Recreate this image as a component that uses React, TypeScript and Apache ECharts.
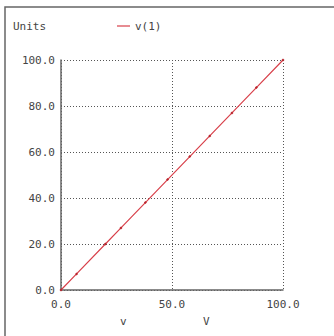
import React, { useEffect, useRef } from "react";
import * as echarts from "echarts";

const xValues = [0, 7, 20, 27, 38, 48, 58, 67, 77, 88, 100];
const yValues = [0, 7, 20, 27, 38, 48, 58, 67, 77, 88, 100];
const seriesName = "v(1)";
const FONT = "DejaVu Sans Mono";

export default function App() {
  const ref = useRef<HTMLDivElement>(null);
  useEffect(() => {
    const chart = echarts.init(ref.current!, null, { renderer: "svg" });
    const lbl = { fontFamily: FONT, fontSize: 11, color: "#444" };
    chart.setOption({
      animation: false,
      backgroundColor: "#fff",
      grid: { left: 61, top: 60, width: 222, height: 230, show: false },
      legend: { show: false },
      xAxis: {
        type: "value",
        min: 0,
        max: 100,
        interval: 50,
        axisLine: { show: true, onZero: false, lineStyle: { color: "#666", width: 1.5 } },
        axisTick: { show: false },
        axisLabel: { ...lbl, margin: 9, formatter: (v: number) => v.toFixed(1) },
        splitLine: { show: true, lineStyle: { color: "#555", type: [1, 2], width: 1 } },
      },
      yAxis: {
        type: "value",
        min: 0,
        max: 100,
        interval: 20,
        axisLine: { show: true, onZero: false, lineStyle: { color: "#666", width: 1.5 } },
        axisTick: { show: false },
        axisLabel: { ...lbl, margin: 6, formatter: (v: number) => v.toFixed(1) },
        splitLine: { show: true, lineStyle: { color: "#555", type: [1, 2], width: 1 } },
      },
      series: [
        {
          name: seriesName,
          type: "line",
          data: xValues.map((x, i) => [x, yValues[i]]),
          lineStyle: { color: "#d8404a", width: 1.2 },
          itemStyle: { color: "#b8262e" },
          symbol: "diamond",
          symbolSize: 3,
          showSymbol: true,
        },
      ],
      graphic: [
        {
          type: "rect",
          shape: { x: 5, y: 7, width: 340, height: 340 },
          style: { fill: "none", stroke: "#666", lineWidth: 1.5 },
          silent: true,
          z: -1,
        },
        { type: "text", x: 13, y: 21, style: { text: "Units", fill: "#444", font: `11px ${FONT}` } },
        { type: "line", shape: { x1: 117, y1: 26, x2: 130, y2: 26 }, style: { stroke: "#d8404a", lineWidth: 1.2 } },
        { type: "text", x: 135, y: 21, style: { text: seriesName, fill: "#444", font: `11px ${FONT}` } },
        { type: "text", x: 120, y: 316, style: { text: "v", fill: "#444", font: `11px ${FONT}` } },
        { type: "text", x: 203, y: 316, style: { text: "V", fill: "#444", font: `11px ${FONT}` } },
      ],
    });
    return () => chart.dispose();
  }, []);
  return <div ref={ref} style={{ width: 334, height: 336, position: "absolute", left: 0, top: 0 }} />;
}
